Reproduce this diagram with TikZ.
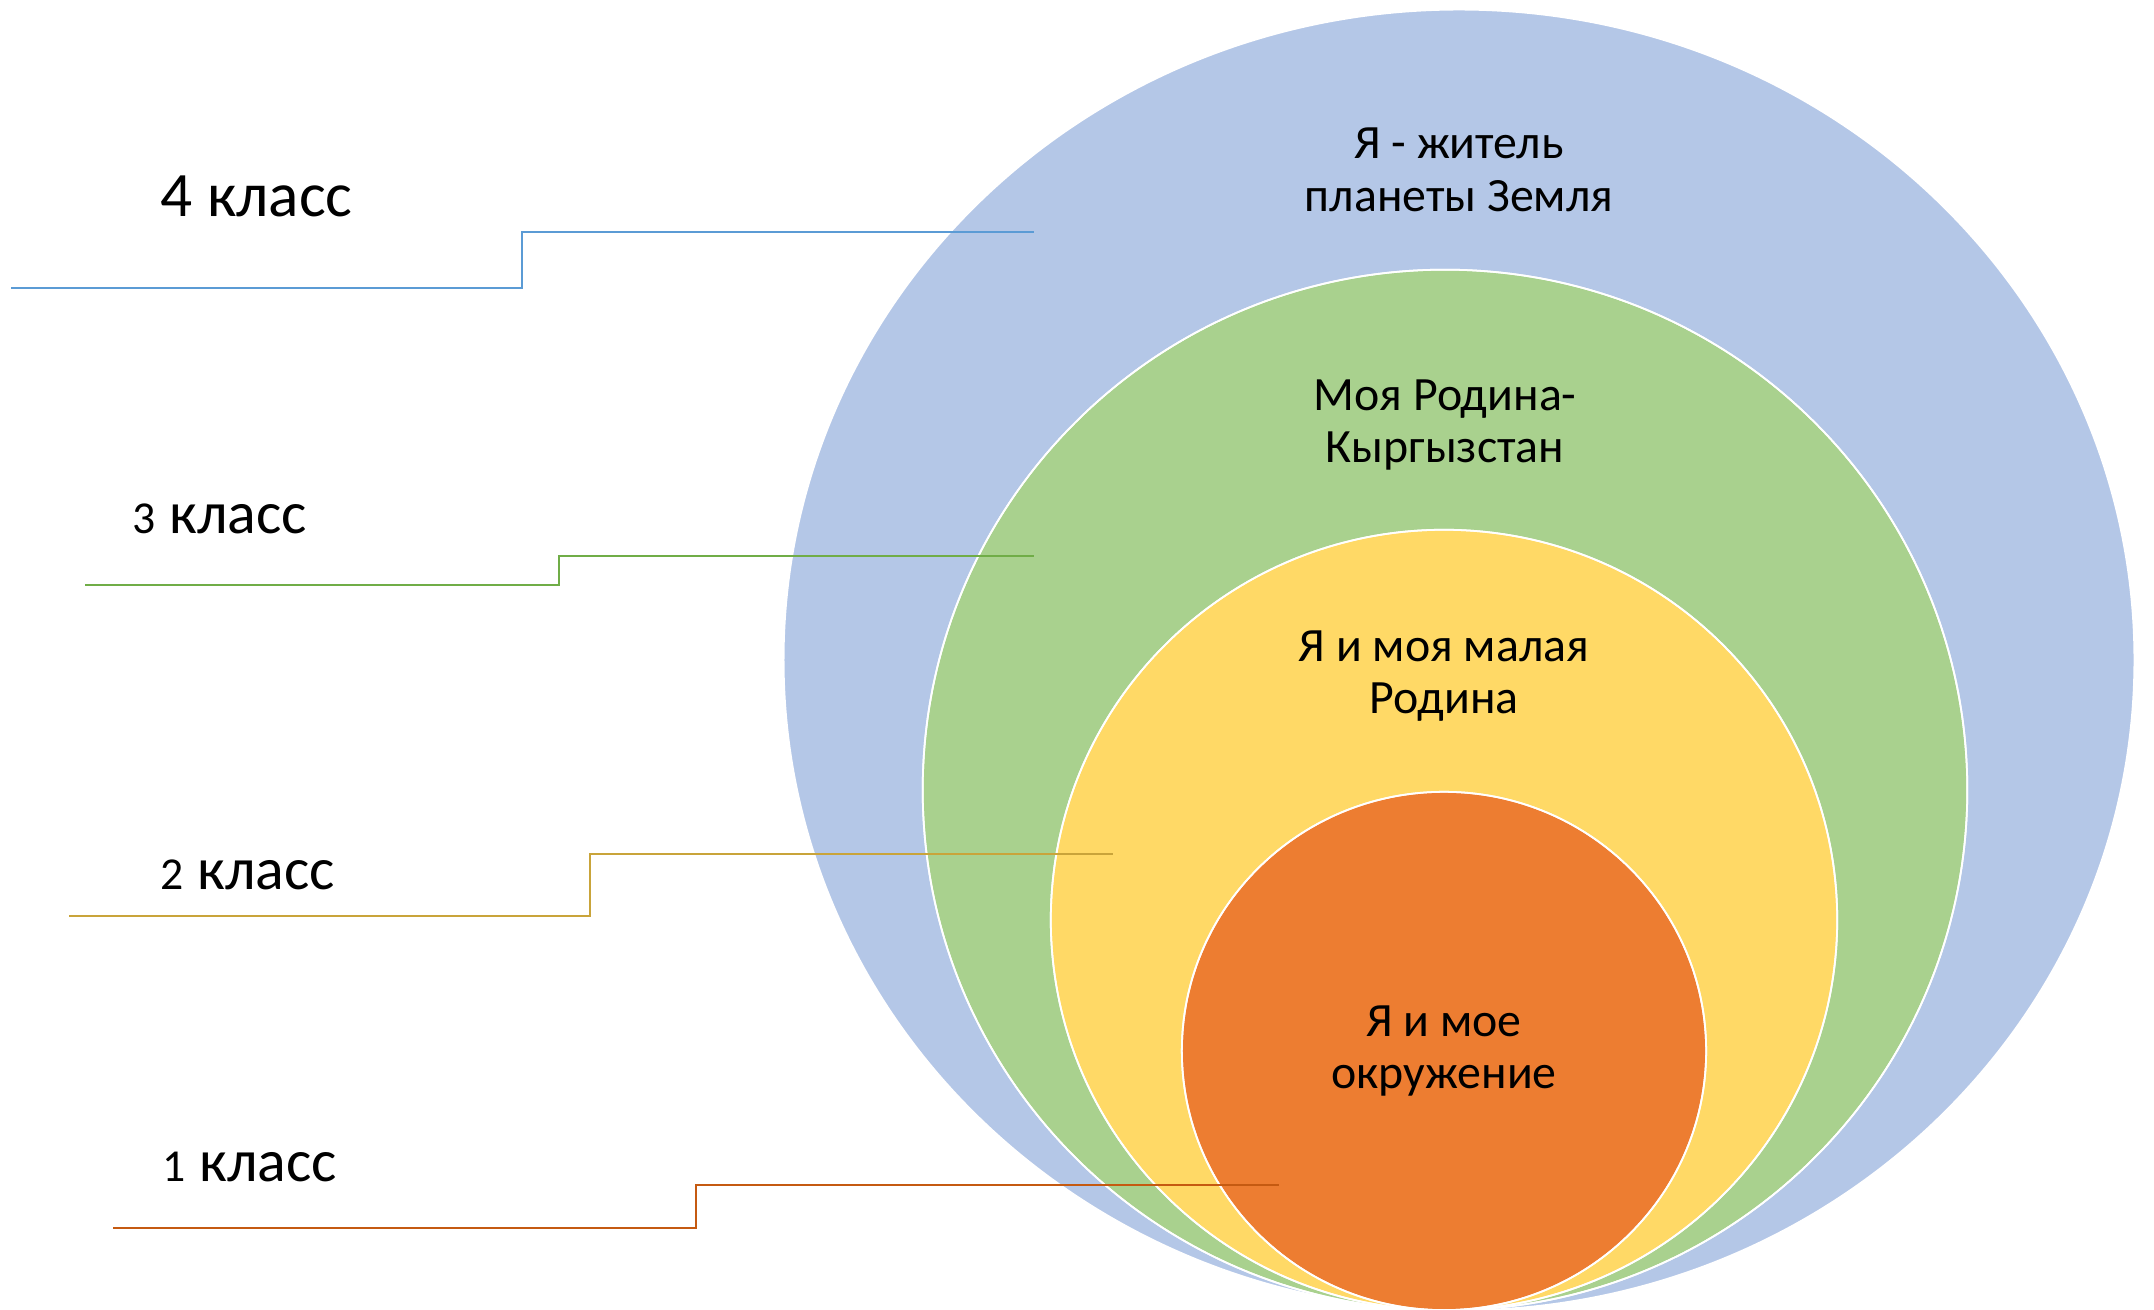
\documentclass[tikz,border=0pt]{standalone}
\usepackage{fontspec}
\setmainfont{Carlito}
\definecolor{ringblue}{HTML}{B4C7E7}
\definecolor{ringgreen}{HTML}{A9D18E}
\definecolor{ringyellow}{HTML}{FFD966}
\definecolor{ringorange}{HTML}{ED7D31}
\definecolor{lineblue}{HTML}{5B9BD5}
\definecolor{linegreen}{HTML}{70AD47}
\definecolor{linegold}{HTML}{C9A43A}
\definecolor{lineorange}{HTML}{C55A11}
\newcommand{\smalldigit}[1]{{\fontsize{13}{16}\selectfont #1}}
\begin{document}
\begin{tikzpicture}[x=0.01cm,y=0.01cm,
    ring/.style={draw=white,line width=0.5pt},
    ringtext/.style={align=center,font=\fontsize{13.6}{15}\selectfont},
    classtext/.style={anchor=base west,inner sep=0pt,font=\fontsize{17}{20}\selectfont},
    stepline/.style={line width=0.6pt}]
    \useasboundingbox (0,0) rectangle (2154,1310);

    % rings, outer to inner
    \fill[ring,fill=ringblue] (1459,650) ellipse [x radius=6.75cm, y radius=6.5cm];
    \fill[ring,fill=ringgreen] (1445,520) ellipse [x radius=5.22cm, y radius=5.2cm];
    \fill[ring,fill=ringyellow] (1444,390) ellipse [x radius=3.93cm, y radius=3.9cm];
    \fill[ring,fill=ringorange] (1444,259) ellipse [x radius=2.62cm, y radius=2.59cm];
    \draw[ring] (1445,520) ellipse [x radius=5.22cm, y radius=5.2cm];
    \draw[ring] (1444,390) ellipse [x radius=3.93cm, y radius=3.9cm];
    \draw[ring] (1444,259) ellipse [x radius=2.62cm, y radius=2.59cm];

    \node[ringtext] (earth) at (1459,1140) {Я - житель\\планеты Земля};
    \node[ringtext] (country) at (1445,885) {Моя Родина-\\Кыргызстан};
    \node[ringtext] (home) at (1444,634) {Я и моя малая\\Родина};
    \node[ringtext] (self) at (1444,259) {Я и мое\\окружение};

    % class labels
    \node[classtext,font=\fontsize{18}{21}\selectfont] (c4) at (160,1093) {4 класс};
    \node[classtext] (c3) at (132,776) {\smalldigit{3} класс};
    \node[classtext] (c2) at (160,420) {\smalldigit{2} класс};
    \node[classtext] (c1) at (162,128) {\smalldigit{1} класс};

    % step lines
    \coordinate (s4a) at (11,1022);
    \coordinate (s4b) at (522,1078);
    \coordinate (s4c) at (1034,1078);
    \coordinate (s3a) at (85,725);
    \coordinate (s3b) at (559,754);
    \coordinate (s3c) at (1034,754);
    \coordinate (s2a) at (69,394);
    \coordinate (s2b) at (590,456);
    \coordinate (s2c) at (1113,456);
    \coordinate (s1a) at (113,82);
    \coordinate (s1b) at (696,125);
    \coordinate (s1c) at (1279,125);

    \draw[stepline,lineblue] (s4a) -| (s4b) -- (s4c);
    \draw[stepline,linegreen] (s3a) -| (s3b) -- (s3c);
    \draw[stepline,linegold] (s2a) -| (s2b) -- (s2c);
    \draw[stepline,lineorange] (s1a) -| (s1b) -- (s1c);
\end{tikzpicture}
\end{document}
